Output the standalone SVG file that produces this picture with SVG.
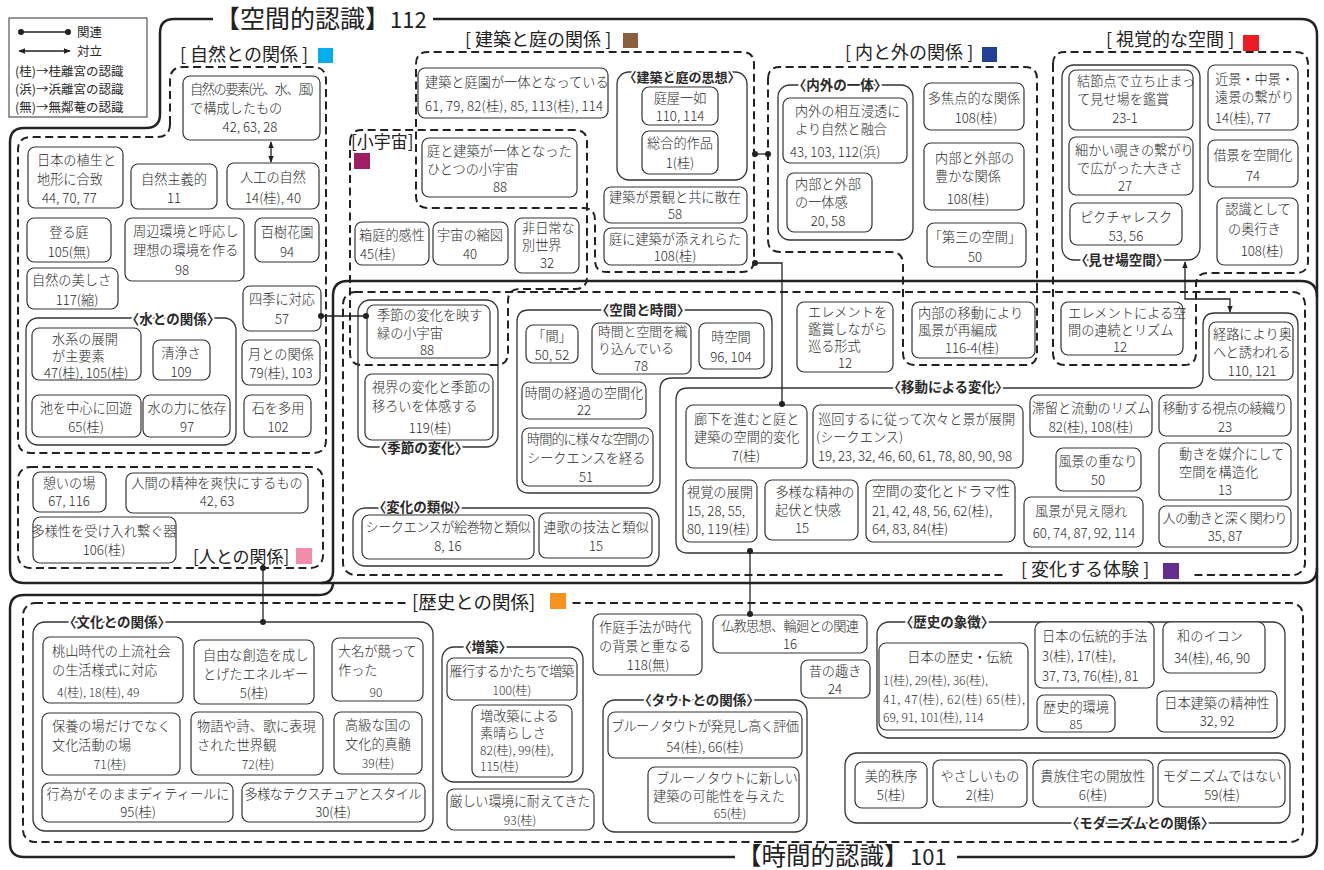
<svg xmlns="http://www.w3.org/2000/svg" width="1324" height="870" viewBox="0 0 1324 870">
<defs>
<style>
text{font-family:"Noto Sans CJK JP","Noto Sans CJK SC",sans-serif;fill:#2a2a2a}
.t{font-size:13.2px;font-weight:300}
.s{font-size:12px;font-weight:300}
.m{text-anchor:middle}
.lg{font-size:12.5px}
.nd{fill:#fff;stroke:#333;stroke-width:1.2}
.grp{fill:none;stroke:#333;stroke-width:1.3}
.gl{font-size:13.5px;font-weight:bold;text-anchor:middle;stroke:#fff;stroke-width:4px;paint-order:stroke;stroke-linejoin:round}
.sec{font-size:18px;fill:#222}
.dash{fill:none;stroke:#222;stroke-width:2;stroke-dasharray:8 4.5}
.main{fill:none;stroke:#222;stroke-width:2.5}
.con{fill:none;stroke:#222;stroke-width:1.3}
.ttl{font-size:25px;fill:#222}
.ttn{font-size:22px;fill:#222}
</style>
<marker id="ah" viewBox="0 0 10 10" refX="9" refY="5" markerWidth="7" markerHeight="7" orient="auto-start-reverse" markerUnits="userSpaceOnUse"><path d="M0,1 L10,5 L0,9 Z" fill="#222"/></marker>
<marker id="dot" viewBox="0 0 10 10" refX="5" refY="5" markerWidth="6" markerHeight="6" markerUnits="userSpaceOnUse"><circle cx="5" cy="5" r="5" fill="#222"/></marker>
</defs>
<rect width="1324" height="870" fill="#fff"/>

<!-- main outlines -->
<g id="outlines">
<path class="main" d="M213,19 H174 Q160,19 160,33 V114 Q160,128 146,128 H24 Q10,128 10,142 V569 Q10,583 24,583 H1302 Q1317,583 1317,568"/>
<path class="main" d="M433,19 H1301 Q1317,19 1317,35 V842 Q1317,857 1302,857 H957"/>
<path class="main" d="M333,571 V296 Q333,281 348,281 H1301 Q1317,281 1317,297"/>
<path class="main" d="M333,571 Q333,583 321,583"/>
<path class="main" d="M735,857 H24 Q10,857 10,843 V609 Q10,595 24,595 H318 Q332,595 333,584"/>
<text class="ttl" x="215" y="28">【空間的認識】</text><text class="ttn" x="390" y="28">112</text>
<text class="ttl" x="737" y="865" style="font-size:24.5px">【時間的認識】</text><text class="ttn" x="910" y="865">101</text>
</g>

<!-- legend -->
<g id="legend">
<rect x="9" y="18" width="138" height="99" fill="#fff" stroke="#333" stroke-width="1"/>
<line class="con" x1="21" y1="32" x2="68" y2="32" marker-start="url(#dot)" marker-end="url(#dot)"/>
<text class="lg" x="77" y="37">関連</text>
<line class="con" x1="19" y1="51" x2="70" y2="51" marker-start="url(#ah)" marker-end="url(#ah)"/>
<text class="lg" x="77" y="56">対立</text>
<text class="lg" x="15" y="76">(桂)→桂離宮の認識</text>
<text class="lg" x="15" y="94">(浜)→浜離宮の認識</text>
<text class="lg" x="15" y="112">(無)→無鄰菴の認識</text>
</g>

<!-- section regions -->
<g id="sections">
<path class="dash" d="M170,124 V80 Q170,67 183,67 H313 Q326,67 326,80 V440 Q326,453 313,453 H31 Q18,453 18,440 V150 Q18,137 31,137 H157 Q170,137 170,124 Z"/>
<text class="sec" x="180" y="61">[ 自然との関係 ]</text><rect x="318" y="48" width="15" height="15" fill="#00AEEF"/>
<rect class="dash" x="18" y="467" width="305" height="101" rx="12"/>
<text class="sec" x="193" y="563" style="font-size:17px">[人との関係]</text><rect x="296" y="548" width="16" height="16" fill="#F08EA9"/>
<path class="dash" d="M350,142 Q350,130 362,130 H575 Q587,130 587,142 V277 Q587,289 575,289 H520 Q508,289 508,301 V353 Q508,365 496,365 H362 Q350,365 350,353 Z"/>
<text class="sec" x="351" y="148" style="font-size:17px">[小宇宙]</text><rect x="354" y="153" width="16" height="16" fill="#9E1F63"/>
<path class="dash" d="M416,64 Q416,52 428,52 H742 Q754,52 754,64 V260 Q754,272 742,272 H607 Q595,272 595,260 V220 Q595,208 583,208 H428 Q416,208 416,196 Z"/>
<text class="sec" x="465" y="46">[ 建築と庭の関係 ]</text><rect x="623" y="33" width="15" height="15" fill="#8B5E3C"/>
<path class="dash" d="M768,79 Q768,67 780,67 H1025 Q1037,67 1037,79 V353 Q1037,365 1025,365 H915 Q903,365 903,353 V264 Q903,252 891,252 H780 Q768,252 768,240 Z"/>
<text class="sec" x="845" y="59">[ 内と外の関係 ]</text><rect x="982" y="47" width="15" height="15" fill="#1F3F99"/>
<path class="dash" d="M1053,64 Q1053,52 1065,52 H1296 Q1308,52 1308,64 V261 Q1308,273 1296,273 H1208 Q1196,273 1196,285 V353 Q1196,365 1184,365 H1065 Q1053,365 1053,353 Z"/>
<text class="sec" x="1106" y="46">[ 視覚的な空間 ]</text><rect x="1243" y="35" width="16" height="16" fill="#ED1C24"/>
<rect class="dash" x="343" y="292" width="962" height="283" rx="12"/>
<rect x="1006" y="563" width="186" height="16" fill="#fff"/>
<text class="sec" x="1021" y="576">[ 変化する体験 ]</text><rect x="1163" y="563" width="16" height="16" fill="#662D91"/>
<rect class="dash" x="23" y="603" width="1280" height="239" rx="12"/>
<rect x="408" y="595" width="160" height="16" fill="#fff"/>
<text class="sec" x="412" y="609" style="font-size:18.5px">[歴史との関係]</text><rect x="550" y="593" width="16" height="16" fill="#F7941D"/>
</g>

<!-- groups -->
<g id="groups">
<g id="g-water"><rect class="grp" x="26" y="318" width="210" height="127" rx="12"/><text class="gl" x="173" y="324">〈水との関係〉</text></g>
<g id="g-shisou"><rect class="grp" x="617" y="72" width="130" height="108" rx="12"/><text class="gl" x="682" y="82" style="font-size:13px">〈建築と庭の思想〉</text></g>
<g id="g-naigai"><rect class="grp" x="778" y="85" width="135" height="155" rx="12"/><text class="gl" x="840" y="90">〈内外の一体〉</text></g>
<g id="g-misebaba"><rect class="grp" x="1062" y="65" width="138" height="195" rx="12"/><text class="gl" x="1122" y="265">〈見せ場空間〉</text></g>
<g id="g-kisetsu"><rect class="grp" x="358" y="300" width="140" height="147" rx="12"/><text class="gl" x="421" y="453">〈季節の変化〉</text></g>
<g id="g-kukan"><path class="grp" d="M529,310 H760 Q772,310 772,322 V366 Q772,378 760,378 H672 Q660,378 660,390 V481 Q660,493 648,493 H529 Q517,493 517,481 V322 Q517,310 529,310 Z"/><text class="gl" x="643" y="315">〈空間と時間〉</text></g>
<g id="g-ruiji"><rect class="grp" x="353" y="508" width="306" height="58" rx="12"/><text class="gl" x="420" y="512">〈変化の類似〉</text></g>
<g id="g-idou"><path class="grp" d="M688,388 H1191 Q1203,388 1203,376 V325 Q1203,313 1215,313 H1286 Q1298,313 1298,325 V541 Q1298,553 1286,553 H688 Q676,553 676,541 V400 Q676,388 688,388 Z"/><text class="gl" x="948" y="392">〈移動による変化〉</text></g>
<g id="g-bunka"><rect class="grp" x="33" y="622" width="400" height="209" rx="12"/><text class="gl" x="117" y="627">〈文化との関係〉</text></g>
<g id="g-zouchiku"><rect class="grp" x="442" y="647" width="141" height="135" rx="12"/><text class="gl" x="485" y="652">〈増築〉</text></g>
<g id="g-taut"><rect class="grp" x="603" y="700" width="204" height="132" rx="12"/><text class="gl" x="699" y="705">〈タウトとの関係〉</text></g>
<g id="g-shouchou"><rect class="grp" x="877" y="622" width="408" height="116" rx="12"/><text class="gl" x="947" y="627">〈歴史の象徴〉</text></g>
<g id="g-modern"><rect class="grp" x="845" y="753" width="445" height="70" rx="12"/><text class="gl" x="1140" y="828">〈モダニズムとの関係〉</text></g>
</g>

<!-- nodes -->
<g id="nodes">
<g id="n01"><rect class="nd" rx="7" x="183" y="76" width="137" height="64"/><text class="t" x="190" y="94" textLength="124">自然の要素(光、水、風)</text><text class="t" x="190" y="113">で構成したもの</text><text class="t m" x="250" y="132">42, 63, 28</text></g>
<g id="n02"><rect class="nd" rx="7" x="28" y="147" width="95" height="61"/><text class="t" x="37" y="165">日本の植生と</text><text class="t" x="37" y="184">地形に合致</text><text class="t" x="42" y="203">44, 70, 77</text></g>
<g id="n03"><rect class="nd" rx="7" x="131" y="164" width="86" height="45"/><text class="t m" x="174" y="184">自然主義的</text><text class="t m" x="174" y="203">11</text></g>
<g id="n04"><rect class="nd" rx="7" x="227" y="163" width="92" height="46"/><text class="t m" x="273" y="182">人工の自然</text><text class="t m" x="273" y="203">14(桂), 40</text></g>
<g id="n05"><rect class="nd" rx="7" x="27" y="218" width="84" height="44"/><text class="t m" x="69" y="237">登る庭</text><text class="t m" x="69" y="257">105(無)</text></g>
<g id="n06"><rect class="nd" rx="7" x="125" y="218" width="119" height="63"/><text class="t" x="133" y="236">周辺環境と呼応し</text><text class="t" x="133" y="255">理想の環境を作る</text><text class="t m" x="182" y="275">98</text></g>
<g id="n07"><rect class="nd" rx="7" x="255" y="218" width="64" height="44"/><text class="t m" x="287" y="237">百樹花園</text><text class="t m" x="287" y="257">94</text></g>
<g id="n08"><rect class="nd" rx="7" x="27" y="268" width="91" height="41"/><text class="t" x="32" y="285">自然の美しさ</text><text class="t m" x="77" y="305">117(縮)</text></g>
<g id="n09"><rect class="nd" rx="7" x="243" y="286" width="78" height="45"/><text class="t m" x="282" y="304">四季に対応</text><text class="t m" x="282" y="324">57</text></g>
<g id="n10"><rect class="nd" rx="7" x="32" y="328" width="109" height="52"/><text class="t" x="52" y="344">水系の展開</text><text class="t" x="52" y="361">が主要素</text><text class="t" x="44" y="378">47(桂), 105(桂)</text></g>
<g id="n11"><rect class="nd" rx="7" x="153" y="340" width="57" height="40"/><text class="t m" x="181" y="358">清浄さ</text><text class="t m" x="181" y="377">109</text></g>
<g id="n12"><rect class="nd" rx="7" x="242" y="340" width="78" height="45"/><text class="t m" x="281" y="359">月との関係</text><text class="t m" x="281" y="378">79(桂), 103</text></g>
<g id="n13"><rect class="nd" rx="7" x="32" y="395" width="109" height="42"/><text class="t m" x="86" y="413">池を中心に回遊</text><text class="t m" x="86" y="432">65(桂)</text></g>
<g id="n14"><rect class="nd" rx="7" x="143" y="395" width="87" height="42"/><text class="t m" x="187" y="413">水の力に依存</text><text class="t m" x="187" y="432">97</text></g>
<g id="n15"><rect class="nd" rx="7" x="244" y="395" width="67" height="42"/><text class="t m" x="278" y="413">石を多用</text><text class="t m" x="278" y="432">102</text></g>

<g id="n16"><rect class="nd" rx="7" x="33" y="472" width="73" height="40"/><text class="t m" x="69" y="488">憩いの場</text><text class="t m" x="69" y="506">67, 116</text></g>
<g id="n17"><rect class="nd" rx="7" x="126" y="473" width="182" height="40"/><text class="t m" x="217" y="488">人間の精神を爽快にするもの</text><text class="t m" x="217" y="506">42, 63</text></g>
<g id="n18"><rect class="nd" rx="7" x="33" y="517" width="143" height="46"/><text class="t m" x="104" y="536">多様性を受け入れ繋ぐ器</text><text class="t m" x="104" y="555">106(桂)</text></g>

<g id="n19"><rect class="nd" rx="7" x="422" y="138" width="155" height="59"/><text class="t" x="427" y="156">庭と建築が一体となった</text><text class="t" x="427" y="174">ひとつの小宇宙</text><text class="t m" x="500" y="192">88</text></g>
<g id="n20"><rect class="nd" rx="7" x="355" y="222" width="74" height="43"/><text class="t m" x="392" y="240">箱庭的感性</text><text class="t" x="360" y="259">45(桂)</text></g>
<g id="n21"><rect class="nd" rx="7" x="433" y="222" width="75" height="43"/><text class="t m" x="470" y="240">宇宙の縮図</text><text class="t m" x="470" y="259">40</text></g>
<g id="n22"><rect class="nd" rx="7" x="515" y="218" width="64" height="55"/><text class="t" x="522" y="233">非日常な</text><text class="t" x="522" y="250">別世界</text><text class="t m" x="547" y="268">32</text></g>
<g id="n23"><rect class="nd" rx="7" x="367" y="305" width="123" height="53"/><text class="t" x="377" y="320">季節の変化を映す</text><text class="t" x="377" y="338">緑の小宇宙</text><text class="t m" x="427" y="355">88</text></g>

<g id="n24"><rect class="nd" rx="7" x="418" y="68" width="190" height="50"/><text class="t" x="425" y="87">建築と庭園が一体となっている</text><text class="t" x="425" y="111" textLength="178">61, 79, 82(桂), 85, 113(桂), 114</text></g>
<g id="n25"><rect class="nd" rx="7" x="642" y="87" width="76" height="38"/><text class="t m" x="680" y="103">庭屋一如</text><text class="t m" x="680" y="121">110, 114</text></g>
<g id="n26"><rect class="nd" rx="7" x="642" y="131" width="76" height="43"/><text class="t m" x="680" y="148">総合的作品</text><text class="t m" x="680" y="168">1(桂)</text></g>
<g id="n27"><rect class="nd" rx="7" x="604" y="187" width="143" height="36"/><text class="t m" x="675" y="202">建築が景観と共に散在</text><text class="t m" x="675" y="219">58</text></g>
<g id="n28"><rect class="nd" rx="7" x="604" y="228" width="143" height="37"/><text class="t m" x="675" y="244">庭に建築が添えれらた</text><text class="t m" x="675" y="261">108(桂)</text></g>

<g id="n29"><rect class="nd" rx="7" x="783" y="98" width="124" height="65"/><text class="t" x="795" y="116">内外の相互浸透に</text><text class="t" x="795" y="134">より自然と融合</text><text class="t" x="790" y="157">43, 103, 112(浜)</text></g>
<g id="n30"><rect class="nd" rx="7" x="787" y="173" width="85" height="59"/><text class="t" x="795" y="189">内部と外部</text><text class="t" x="795" y="207">の一体感</text><text class="t m" x="828" y="226">20, 58</text></g>
<g id="n31"><rect class="nd" rx="7" x="924" y="83" width="100" height="47"/><text class="t m" x="974" y="103">多焦点的な関係</text><text class="t m" x="976" y="123">108(桂)</text></g>
<g id="n32"><rect class="nd" rx="7" x="924" y="143" width="100" height="67"/><text class="t" x="935" y="163">内部と外部の</text><text class="t" x="935" y="181">豊かな関係</text><text class="t m" x="968" y="204">108(桂)</text></g>
<g id="n33"><rect class="nd" rx="7" x="927" y="223" width="99" height="44"/><text class="t m" x="975" y="242">「第三の空間」</text><text class="t m" x="975" y="262">50</text></g>
<g id="n34"><rect class="nd" rx="7" x="912" y="302" width="123" height="56"/><text class="t" x="918" y="318">内部の移動により</text><text class="t" x="918" y="335">風景が再編成</text><text class="t m" x="972" y="353">116-4(桂)</text></g>

<g id="n35"><rect class="nd" rx="7" x="1069" y="70" width="124" height="60"/><text class="t" x="1077" y="86">結節点で立ち止まっ</text><text class="t" x="1077" y="104">て見せ場を鑑賞</text><text class="t m" x="1125" y="123">23-1</text></g>
<g id="n36"><rect class="nd" rx="7" x="1069" y="137" width="124" height="58"/><text class="t" x="1075" y="155">細かい覗きの繋がり</text><text class="t" x="1077" y="173">で広がった大きさ</text><text class="t m" x="1125" y="191">27</text></g>
<g id="n37"><rect class="nd" rx="7" x="1070" y="203" width="112" height="42"/><text class="t m" x="1126" y="222">ピクチャレスク</text><text class="t m" x="1126" y="241">53, 56</text></g>
<g id="n38"><rect class="nd" rx="7" x="1208" y="65" width="90" height="65"/><text class="t" x="1215" y="84">近景・中景・</text><text class="t" x="1215" y="102">遠景の繋がり</text><text class="t" x="1215" y="123">14(桂), 77</text></g>
<g id="n39"><rect class="nd" rx="7" x="1208" y="140" width="90" height="47"/><text class="t m" x="1253" y="160">借景を空間化</text><text class="t m" x="1253" y="181">74</text></g>
<g id="n40"><rect class="nd" rx="7" x="1217" y="198" width="81" height="67"/><text class="t m" x="1258" y="214">認識として</text><text class="t" x="1228" y="234">の奥行き</text><text class="t m" x="1262" y="256">108(桂)</text></g>
<g id="n41"><rect class="nd" rx="7" x="1061" y="302" width="122" height="53"/><text class="t" x="1068" y="318">エレメントによる空</text><text class="t" x="1068" y="335">間の連続とリズム</text><text class="t m" x="1120" y="352">12</text></g>

<g id="n42"><rect class="nd" rx="7" x="797" y="302" width="96" height="70"/><text class="t" x="808" y="317">エレメントを</text><text class="t" x="808" y="334">鑑賞しながら</text><text class="t" x="808" y="351">巡る形式</text><text class="t m" x="845" y="368">12</text></g>
<g id="n43"><rect class="nd" rx="7" x="526" y="325" width="52" height="38"/><text class="t m" x="552" y="341">「間」</text><text class="t m" x="552" y="360">50, 52</text></g>
<g id="n44"><rect class="nd" rx="7" x="592" y="323" width="99" height="51"/><text class="t" x="598" y="336" style="font-size:12.8px">時間と空間を織</text><text class="t" x="598" y="353" style="font-size:12.8px">り込んでいる</text><text class="t m" x="641" y="371">78</text></g>
<g id="n45"><rect class="nd" rx="7" x="699" y="323" width="65" height="46"/><text class="t m" x="731" y="342">時空間</text><text class="t m" x="731" y="362">96, 104</text></g>
<g id="n46"><rect class="nd" rx="7" x="522" y="382" width="124" height="37"/><text class="t m" x="584" y="398">時間の経過の空間化</text><text class="t m" x="584" y="415">22</text></g>
<g id="n47"><rect class="nd" rx="7" x="522" y="428" width="131" height="58"/><text class="t" x="527" y="444" textLength="123">時間的に様々な空間の</text><text class="t" x="527" y="463">シークエンスを経る</text><text class="t m" x="586" y="482">51</text></g>
<g id="n48"><rect class="nd" rx="7" x="365" y="374" width="128" height="66"/><text class="t" x="372" y="392">視界の変化と季節の</text><text class="t" x="372" y="411">移ろいを体感する</text><text class="t m" x="430" y="433">119(桂)</text></g>
<g id="n49"><rect class="nd" rx="7" x="362" y="515" width="172" height="44"/><text class="t m" x="448" y="532" textLength="165">シークエンスが絵巻物と類似</text><text class="t m" x="448" y="551">8, 16</text></g>
<g id="n50"><rect class="nd" rx="7" x="539" y="513" width="113" height="45"/><text class="t m" x="596" y="532">連歌の技法と類似</text><text class="t m" x="596" y="551">15</text></g>
<g id="n51"><rect class="nd" rx="7" x="1209" y="322" width="84" height="58"/><text class="t" x="1213" y="339">経路により奥</text><text class="t" x="1213" y="357">へと誘われる</text><text class="t m" x="1252" y="376">110, 121</text></g>
<g id="n52"><rect class="nd" rx="7" x="686" y="405" width="121" height="63"/><text class="t" x="694" y="424">廊下を進むと庭と</text><text class="t" x="694" y="442">建築の空間的変化</text><text class="t m" x="746" y="461">7(桂)</text></g>
<g id="n53"><rect class="nd" rx="7" x="813" y="405" width="210" height="63"/><text class="t" x="818" y="424">巡回するに従って次々と景が展開</text><text class="t" x="816" y="442">(シークエンス)</text><text class="t" x="818" y="461" textLength="194">19, 23, 32, 46, 60, 61, 78, 80, 90, 98</text></g>
<g id="n54"><rect class="nd" rx="7" x="1030" y="395" width="122" height="42"/><text class="t m" x="1091" y="413">滞留と流動のリズム</text><text class="t m" x="1091" y="432">82(桂), 108(桂)</text></g>
<g id="n55"><rect class="nd" rx="7" x="1159" y="395" width="132" height="41"/><text class="t m" x="1225" y="413" textLength="125">移動する視点の綾織り</text><text class="t m" x="1225" y="432">23</text></g>
<g id="n56"><rect class="nd" rx="7" x="1056" y="448" width="85" height="43"/><text class="t m" x="1098" y="466">風景の重なり</text><text class="t m" x="1098" y="485">50</text></g>
<g id="n57"><rect class="nd" rx="7" x="1159" y="443" width="132" height="57"/><text class="t" x="1179" y="459">動きを媒介にして</text><text class="t" x="1179" y="477">空間を構造化</text><text class="t m" x="1225" y="495">13</text></g>
<g id="n58"><rect class="nd" rx="7" x="683" y="480" width="74" height="62"/><text class="t" x="687" y="497">視覚の展開</text><text class="t" x="687" y="516">15, 28, 55,</text><text class="t" x="687" y="534">80, 119(桂)</text></g>
<g id="n59"><rect class="nd" rx="7" x="765" y="480" width="93" height="60"/><text class="t m" x="815" y="497">多様な精神の</text><text class="t" x="775" y="515">起伏と快感</text><text class="t m" x="802" y="533">15</text></g>
<g id="n60"><rect class="nd" rx="7" x="866" y="480" width="149" height="62"/><text class="t" x="872" y="496" style="font-size:13.8px">空間の変化とドラマ性</text><text class="t" x="872" y="516">21, 42, 48, 56, 62(桂),</text><text class="t" x="872" y="534">64, 83, 84(桂)</text></g>
<g id="n61"><rect class="nd" rx="7" x="1024" y="497" width="119" height="50"/><text class="t" x="1035" y="516">風景が見え隠れ</text><text class="t m" x="1084" y="538">60, 74, 87, 92, 114</text></g>
<g id="n62"><rect class="nd" rx="7" x="1159" y="506" width="132" height="41"/><text class="t m" x="1225" y="523" textLength="125">人の動きと深く関わり</text><text class="t m" x="1225" y="541">35, 87</text></g>

<g id="n63"><rect class="nd" rx="7" x="43" y="637" width="140" height="66"/><text class="t" x="52" y="656">桃山時代の上流社会</text><text class="t" x="52" y="675">の生活様式に対応</text><text class="s" x="57" y="697">4(桂), 18(桂), 49</text></g>
<g id="n64"><rect class="nd" rx="7" x="194" y="640" width="120" height="64"/><text class="t" x="203" y="660">自由な創造を成し</text><text class="t" x="203" y="679">とげたエネルギー</text><text class="t m" x="254" y="698">5(桂)</text></g>
<g id="n65"><rect class="nd" rx="7" x="332" y="638" width="91" height="63"/><text class="t" x="338" y="656">大名が競って</text><text class="t" x="338" y="675">作った</text><text class="s m" x="376" y="697">90</text></g>
<g id="n66"><rect class="nd" rx="7" x="42" y="713" width="138" height="62"/><text class="t" x="52" y="731">保養の場だけでなく</text><text class="t" x="52" y="750">文化活動の場</text><text class="s m" x="110" y="769">71(桂)</text></g>
<g id="n67"><rect class="nd" rx="7" x="191" y="712" width="132" height="63"/><text class="t" x="197" y="731">物語や詩、歌に表現</text><text class="t" x="197" y="750">された世界観</text><text class="s m" x="258" y="769">72(桂)</text></g>
<g id="n68"><rect class="nd" rx="7" x="334" y="712" width="88" height="62"/><text class="t m" x="378" y="730">高級な国の</text><text class="t m" x="378" y="749">文化的真髄</text><text class="s m" x="378" y="768">39(桂)</text></g>
<g id="n69"><rect class="nd" rx="7" x="42" y="783" width="191" height="39"/><text class="t m" x="138" y="799">行為がそのままディティールに</text><text class="t m" x="138" y="817">95(桂)</text></g>
<g id="n70"><rect class="nd" rx="7" x="242" y="783" width="183" height="39"/><text class="t m" x="333" y="799" textLength="177">多様なテクスチュアとスタイル</text><text class="t m" x="333" y="817">30(桂)</text></g>
<g id="n71"><rect class="nd" rx="7" x="447" y="658" width="130" height="42"/><text class="t m" x="512" y="676" textLength="125">雁行するかたちで増築</text><text class="s m" x="512" y="695">100(桂)</text></g>
<g id="n72"><rect class="nd" rx="7" x="472" y="705" width="100" height="72"/><text class="t" x="480" y="721">増改築による</text><text class="t" x="480" y="738">素晴らしさ</text><text class="s" x="480" y="755">82(桂), 99(桂),</text><text class="s" x="480" y="771">115(桂)</text></g>
<g id="n73"><rect class="nd" rx="7" x="447" y="789" width="147" height="41"/><text class="t m" x="520" y="806" textLength="141">厳しい環境に耐えてきた</text><text class="s m" x="520" y="825">93(桂)</text></g>
<g id="n74"><rect class="nd" rx="7" x="593" y="614" width="109" height="61"/><text class="t" x="599" y="632">作庭手法が時代</text><text class="t" x="599" y="651">の背景と重なる</text><text class="t m" x="648" y="670">118(無)</text></g>
<g id="n75"><rect class="nd" rx="7" x="713" y="615" width="154" height="38"/><text class="t m" x="790" y="631" textLength="138">仏教思想、輪廻との関連</text><text class="t m" x="790" y="649">16</text></g>
<g id="n76"><rect class="nd" rx="7" x="801" y="660" width="69" height="38"/><text class="t m" x="835" y="676">昔の趣き</text><text class="t m" x="835" y="694">24</text></g>
<g id="n77"><rect class="nd" rx="7" x="608" y="712" width="194" height="46"/><text class="t m" x="705" y="731" textLength="188">ブルーノタウトが発見し高く評価</text><text class="t m" x="705" y="752">54(桂), 66(桂)</text></g>
<g id="n78"><rect class="nd" rx="7" x="648" y="767" width="151" height="56"/><text class="t" x="656" y="783" textLength="142">ブルーノタウトに新しい</text><text class="t" x="653" y="801">建築の可能性を与えた</text><text class="s m" x="730" y="818">65(桂)</text></g>
<g id="n79"><rect class="nd" rx="7" x="879" y="643" width="149" height="87"/><text class="t m" x="960" y="662">日本の歴史・伝統</text><text class="s" x="883" y="685">1(桂), 29(桂), 36(桂),</text><text class="s" x="883" y="704" textLength="142">41, 47(桂), 62(桂) 65(桂),</text><text class="s" x="883" y="722">69, 91, 101(桂), 114</text></g>
<g id="n80"><rect class="nd" rx="7" x="1035" y="622" width="119" height="66"/><text class="t" x="1042" y="641">日本の伝統的手法</text><text class="t" x="1042" y="661">3(桂), 17(桂),</text><text class="t" x="1042" y="681">37, 73, 76(桂), 81</text></g>
<g id="n81"><rect class="nd" rx="7" x="1163" y="622" width="102" height="51"/><text class="t m" x="1210" y="641">和のイコン</text><text class="t m" x="1212" y="663">34(桂), 46, 90</text></g>
<g id="n82"><rect class="nd" rx="7" x="1037" y="695" width="78" height="37"/><text class="t m" x="1076" y="712">歴史的環境</text><text class="s m" x="1076" y="729">85</text></g>
<g id="n83"><rect class="nd" rx="7" x="1157" y="691" width="120" height="41"/><text class="t m" x="1217" y="708">日本建築の精神性</text><text class="t m" x="1217" y="726">32, 92</text></g>
<g id="n84"><rect class="nd" rx="7" x="855" y="762" width="72" height="46"/><text class="t m" x="891" y="781">美的秩序</text><text class="t m" x="891" y="800">5(桂)</text></g>
<g id="n85"><rect class="nd" rx="7" x="933" y="760" width="94" height="47"/><text class="t m" x="980" y="781">やさしいもの</text><text class="t m" x="980" y="800">2(桂)</text></g>
<g id="n86"><rect class="nd" rx="7" x="1033" y="760" width="120" height="47"/><text class="t m" x="1093" y="781">貴族住宅の開放性</text><text class="t m" x="1093" y="800">6(桂)</text></g>
<g id="n87"><rect class="nd" rx="7" x="1158" y="760" width="127" height="47"/><text class="t m" x="1222" y="781">モダニズムではない</text><text class="t m" x="1222" y="800">59(桂)</text></g>
</g>

<!-- connectors -->
<g id="connectors">
<line class="con" x1="271" y1="142" x2="271" y2="162" marker-start="url(#ah)" marker-end="url(#ah)"/>
<line class="con" x1="321" y1="316" x2="366" y2="316" marker-start="url(#dot)" marker-end="url(#dot)"/>
<line class="con" x1="755" y1="154" x2="768" y2="154" marker-start="url(#dot)" marker-end="url(#dot)"/>
<path class="con" d="M755,263 H782 V404" marker-start="url(#dot)" marker-end="url(#dot)"/>
<path class="con" d="M1185,262 V299 H1230 V312" marker-start="url(#ah)" marker-end="url(#ah)"/>
<line class="con" x1="263" y1="568" x2="263" y2="622" marker-start="url(#dot)" marker-end="url(#dot)"/>
<line class="con" x1="750" y1="551" x2="750" y2="614" marker-start="url(#dot)" marker-end="url(#dot)"/>
</g>
</svg>
